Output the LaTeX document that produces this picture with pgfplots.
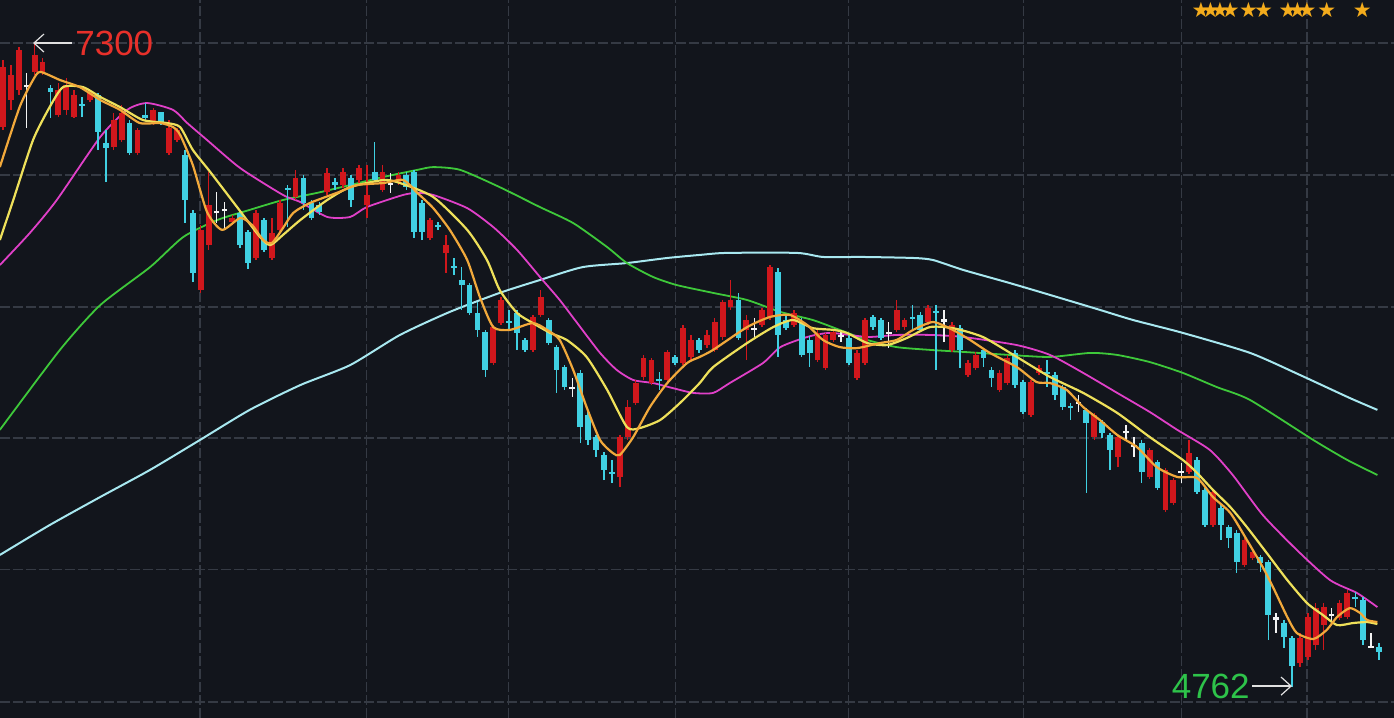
\documentclass[border=0pt]{standalone}
\usepackage{fontspec}
\setmainfont{Liberation Sans}
\newfontfamily\symfont{DejaVu Sans}
\usepackage{pgfplots}
\pgfplotsset{compat=1.18}
\usepackage{pgfplotstable}
\usetikzlibrary{arrows.meta}

\definecolor{bgc}{HTML}{12151C}
\definecolor{gridc}{HTML}{353A44}
\definecolor{upc}{HTML}{D0171C}
\definecolor{dnc}{HTML}{40D0E2}
\definecolor{wc}{HTML}{F2F2F2}
\definecolor{ma5}{HTML}{F2A93B}
\definecolor{ma10}{HTML}{EEE05A}
\definecolor{ma20}{HTML}{E040C8}
\definecolor{ma60}{HTML}{3EC83A}
\definecolor{ma120}{HTML}{A8E8F0}
\definecolor{redtxt}{HTML}{E8302A}
\definecolor{grntxt}{HTML}{2EC34A}
\definecolor{starc}{HTML}{F4AC1C}
\definecolor{arrc}{HTML}{E0E0E0}

\pgfplotsset{
  candle/.style={only marks, mark=*, mark size=0pt, mark options={draw=none, fill=none},
    error bars/.cd, y dir=plus, y explicit, error mark=none,
    error bar style={line width=#1}},
}

% up candles (red): i open high low close
\pgfplotstableread{
i o h l c
0 6972 7237 6961 7209
1 7079 7217 7040 7178
2 7119 7288 7099 7277
4 7190 7300 7178 7257
5 7190 7245 7178 7229
7 7020 7146 7012 7119
8 7040 7166 7020 7138
9 7012 7119 7008 7099
11 7079 7119 7071 7107
14 6893 7028 6882 7000
15 6921 7059 6913 7028
17 6870 6968 6862 6961
19 6992 7047 6980 7040
21 6870 7000 6862 6968
22 6921 6968 6913 6961
25 6329 6585 6317 6566
26 6506 6795 6487 6664
29 6597 6625 6585 6613
32 6455 6645 6447 6633
34 6455 6613 6447 6554
35 6566 6684 6558 6672
37 6696 6803 6684 6771
41 6716 6810 6704 6791
43 6743 6810 6731 6795
45 6763 6822 6751 6810
46 6664 6822 6613 6704
48 6724 6822 6716 6795
50 6755 6795 6743 6783
54 6534 6613 6526 6605
56 6475 6546 6396 6506
62 6040 6190 6032 6182
63 6198 6301 6190 6289
67 6092 6230 6084 6222
68 6230 6329 6222 6301
78 5590 5756 5550 5748
79 5748 5894 5736 5866
80 5882 5973 5874 5961
81 5985 6072 5973 6060
82 5961 6060 5953 6052
84 5973 6092 5965 6084
86 6040 6190 6032 6178
87 6064 6151 6052 6131
89 6111 6171 6099 6151
90 6092 6218 6084 6202
91 6143 6289 6131 6281
92 6261 6368 6250 6289
94 6171 6230 6052 6210
96 6190 6257 6182 6250
97 6222 6427 6210 6419
100 6190 6250 6182 6238
103 6052 6171 6044 6159
104 6020 6159 6013 6151
105 6131 6171 6123 6163
108 5981 6092 5973 6080
109 6040 6218 6032 6210
113 6171 6289 6163 6250
114 6182 6218 6171 6210
117 6202 6269 6190 6257
120 6092 6202 6084 6190
122 5993 6052 5985 6040
123 6020 6084 6013 6072
126 5934 6013 5926 6001
127 5961 6072 5953 6060
130 5835 5973 5827 5965
131 6001 6032 5993 6020
138 5748 5843 5736 5835
141 5669 5756 5629 5748
145 5590 5704 5582 5697
147 5460 5625 5452 5618
148 5487 5586 5479 5578
150 5610 5736 5602 5685
153 5400 5539 5392 5531
157 5242 5349 5234 5341
158 5270 5302 5262 5294
164 4855 4974 4839 4954
165 4879 5053 4867 5037
166 4926 5092 4907 5072
167 5005 5092 4907 5076
169 5033 5104 5025 5092
170 5037 5144 5029 5132
}\upT

% down candles (cyan)
\pgfplotstableread{
i o h l c
6 7126 7138 7008 7111
10 7063 7091 7012 7055
12 7099 7107 6882 6953
13 6909 6961 6755 6889
16 6988 7000 6862 6870
18 7020 7067 7000 7008
20 7032 7032 6980 6988
23 6862 6882 6593 6684
24 6633 6645 6360 6396
30 6633 6645 6494 6506
31 6558 6566 6411 6435
33 6605 6613 6479 6487
36 6731 6743 6577 6724
38 6771 6783 6645 6672
39 6672 6684 6605 6613
40 6664 6676 6625 6637
42 6755 6771 6724 6743
44 6771 6783 6656 6684
47 6795 6913 6755 6763
51 6783 6795 6724 6735
52 6795 6803 6534 6558
53 6672 6684 6526 6558
55 6585 6597 6566 6577
57 6423 6455 6388 6415
58 6368 6419 6250 6348
59 6348 6356 6230 6238
60 6238 6281 6143 6171
61 6163 6171 5985 6013
64 6206 6250 6171 6198
65 6238 6250 6092 6159
66 6131 6139 6084 6092
69 6210 6218 6111 6119
70 6103 6111 5922 6013
71 6024 6032 5934 5945
73 6001 6013 5724 5787
74 5835 5847 5716 5736
75 5748 5756 5669 5697
76 5677 5689 5578 5618
77 5610 5657 5566 5602
83 5977 6005 5934 5969
85 6064 6072 6032 6040
88 6131 6139 6080 6092
93 6289 6317 6131 6139
98 6400 6415 6064 6151
99 6210 6230 6171 6178
101 6202 6218 6064 6072
102 6131 6147 6024 6080
107 6139 6151 6032 6040
110 6222 6230 6171 6182
111 6210 6218 6131 6139
115 6222 6269 6171 6214
116 6230 6242 6163 6171
118 6246 6269 6013 6238
121 6178 6190 6020 6092
124 6092 6099 6024 6060
125 6013 6024 5945 5981
128 6080 6092 5941 5953
129 5965 5973 5839 5847
132 6005 6052 5945 5997
133 5993 6005 5894 5914
134 5945 5953 5855 5866
135 5870 5882 5815 5862
137 5855 5862 5527 5803
139 5807 5815 5744 5764
140 5756 5764 5618 5697
144 5724 5736 5566 5610
146 5649 5657 5539 5546
151 5657 5669 5523 5531
152 5539 5546 5392 5400
154 5467 5479 5341 5400
155 5392 5400 5309 5349
156 5369 5381 5211 5254
159 5274 5282 5215 5250
160 5254 5262 4946 5045
162 5013 5025 4914 4958
163 4954 4962 4762 4843
171 5116 5136 5076 5108
172 5104 5116 4926 4946
174 4918 4934 4867 4899
}\dnT

% doji candles (white)
\pgfplotstableread{
i o h l c
3 7140 7186 6968 7132
27 6639 6716 6593 6631
28 6647 6676 6566 6639
49 6753 6791 6712 6745
72 5947 5981 5906 5939
95 6180 6218 6139 6172
106 6149 6171 6123 6141
112 6161 6202 6099 6153
119 6212 6250 6123 6204
136 5888 5914 5847 5880
142 5770 5795 5736 5762
143 5718 5748 5669 5710
149 5612 5645 5566 5604
161 5035 5053 4974 5027
168 5047 5072 5013 5039
173 4924 4974 4914 4916
}\wT

\begin{document}
\begin{tikzpicture}
\begin{axis}[name=ax, at={(0,0)}, anchor=south west,
  width=697pt, height=359pt, scale only axis,
  xmin=-0.38, xmax=175.9, ymin=4638, ymax=7474,
  axis background/.style={fill=bgc},
  axis line style={draw=none},
  major tick length=0pt,
  xtick={24.9,46.0,63.9,85.0,106.9,129.0,149.0,164.9},
  ytick={7304,6783,6261,5744,5223,4701},
  xticklabels={}, yticklabels={},
  grid=major,
  grid style={gridc, line width=0.6pt, dash pattern=on 5pt off 1.5pt},
]
% slow moving averages
\addplot[ma120, line width=1pt, smooth, tension=0.4] coordinates {
(-0.4,5282) (5.9,5400) (12.3,5511) (18.6,5618) (24.9,5736) (31.2,5855)
(37.6,5953) (43.9,6032) (50.2,6151) (56.5,6242) (62.8,6317) (67.9,6368)
(73.3,6419) (78.9,6435) (84.0,6455) (88.1,6467) (91.5,6475) (100.4,6475)
(103.7,6459) (108.7,6459) (115.1,6455) (117.6,6447) (121.4,6408) (127.3,6356)
(132.4,6309) (138.7,6250) (142.9,6210) (149.2,6159) (157.7,6080) (164.0,5993)
(170.3,5902) (173.8,5855)};
\addplot[ma60, line width=0.9pt, smooth, tension=0.4] coordinates {
(-0.4,5776) (7.2,6092) (12.3,6269) (18.6,6419) (22.8,6538) (27.1,6605)
(31.2,6645) (35.4,6684) (39.7,6712) (43.9,6743) (48.1,6775) (52.4,6803)
(54.4,6814) (57.8,6803) (62.8,6735) (67.9,6656) (72.1,6593) (76.4,6498)
(78.9,6435) (82.2,6380) (85.2,6348) (89.8,6317) (94.1,6289) (98.3,6242)
(102.4,6210) (105.8,6171) (109.3,6131) (113.0,6103) (117.2,6092) (121.4,6084)
(127.3,6072) (132.4,6064) (137.5,6080) (140.9,6072) (145.0,6044) (149.2,6001)
(153.5,5945) (157.7,5894) (165.7,5736) (170.0,5657) (173.8,5598)};
\addplot[ma20, line width=0.9pt, smooth, tension=0.4] coordinates {
(-0.4,6427) (3.4,6554) (6.8,6684) (12.3,6933) (15.7,7040) (18.2,7067)
(21.5,7040) (23.3,6988) (25.8,6921) (30.0,6810) (35.4,6704) (37.6,6676)
(41.0,6617) (43.9,6617) (46.0,6656) (50.6,6704) (52.4,6712) (54.4,6704)
(58.7,6652) (62.0,6577) (65.0,6487) (67.9,6380) (70.4,6289) (73.0,6182)
(75.5,6080) (77.6,6013) (79.7,5973) (82.2,5961) (84.7,5941) (87.3,5922)
(89.8,5922) (91.9,5961) (96.1,6040) (98.3,6103) (101.7,6143) (104.6,6159)
(109.3,6143) (113.0,6151) (117.2,6151) (121.4,6143) (128.2,6111) (132.4,6072)
(136.6,6001) (140.9,5922) (145.0,5847) (148.5,5776) (152.6,5697) (155.5,5598)
(159.3,5440) (163.6,5302) (167.8,5183) (171.2,5132) (173.8,5076)};
% candles: wicks
\addplot[candle=0.75pt, error bar style={color=upc}]
  table[x=i, y=l, y error plus expr=\thisrow{h}-\thisrow{l}] {\upT};
\addplot[candle=0.75pt, error bar style={color=dnc}]
  table[x=i, y=l, y error plus expr=\thisrow{h}-\thisrow{l}] {\dnT};
\addplot[candle=0.75pt, error bar style={color=wc}]
  table[x=i, y=l, y error plus expr=\thisrow{h}-\thisrow{l}] {\wT};
% candles: bodies
\addplot[candle=2.9pt, error bar style={color=upc}]
  table[x=i, y=o, y error plus expr=\thisrow{c}-\thisrow{o}] {\upT};
\addplot[candle=2.9pt, error bar style={color=dnc}]
  table[x=i, y=c, y error plus expr=\thisrow{o}-\thisrow{c}] {\dnT};
\addplot[candle=2.9pt, error bar style={color=wc}]
  table[x=i, y=c, y error plus expr=\thisrow{o}-\thisrow{c}] {\wT};
% fast moving averages
\addplot[ma10, line width=1.1pt, smooth, tension=0.4] coordinates {
(-0.4,6526) (1.3,6684) (3.8,6921) (5.9,7051) (7.6,7130) (10.1,7130)
(12.3,7091) (14.8,7051) (17.7,7000) (20.7,6988) (22.4,6972) (24.0,6882)
(26.2,6795) (29.6,6656) (32.5,6538) (33.8,6506) (35.4,6546) (37.6,6605)
(41.0,6684) (43.9,6735) (48.1,6763) (50.2,6751) (54.4,6696) (58.7,6566)
(61.2,6447) (62.8,6329) (65.0,6238) (67.0,6198) (69.2,6159) (71.3,6131)
(73.8,6064) (76.4,5934) (78.9,5787) (80.5,5783) (83.1,5815) (85.6,5882)
(88.1,5961) (89.8,6024) (94.1,6119) (97.4,6182) (99.9,6210) (102.4,6178)
(105.0,6171) (106.7,6159) (109.3,6119) (111.8,6111) (114.3,6139) (117.2,6182)
(120.1,6178) (123.9,6143) (128.2,6064) (132.4,5985) (136.6,5922) (140.9,5843)
(145.0,5748) (149.2,5657) (151.0,5606) (153.0,5539) (155.2,5471) (157.3,5392)
(159.8,5290) (162.4,5183) (164.9,5092) (166.9,5045) (168.7,5005) (170.7,5013)
(172.5,5017) (173.8,5009)};
\addplot[ma5, line width=1.1pt, smooth, tension=0.4] coordinates {
(-0.4,6814) (2.1,7051) (3.8,7158) (4.7,7190) (7.2,7158) (9.7,7130)
(12.3,7079) (14.8,7040) (17.3,6988) (19.9,6988) (21.5,6972) (22.4,6941)
(24.0,6822) (25.8,6637) (27.7,6566) (30.0,6613) (31.5,6585) (32.9,6526)
(34.0,6514) (35.4,6573) (36.7,6633) (38.8,6672) (42.2,6712) (44.8,6743)
(48.1,6751) (50.6,6763) (52.4,6712) (54.4,6652) (56.5,6566) (58.7,6447)
(60.3,6301) (62.0,6182) (64.1,6171) (67.0,6198) (68.8,6171) (70.4,6131)
(72.1,6013) (73.8,5866) (75.5,5736) (77.1,5685) (78.0,5677) (79.7,5748)
(81.8,5866) (84.0,5961) (86.5,6040) (88.1,6064) (89.8,6092) (94.1,6182)
(97.0,6222) (99.5,6230) (101.7,6190) (103.7,6131) (105.8,6103) (108.0,6099)
(110.9,6119) (113.0,6131) (115.1,6171) (117.6,6202) (120.1,6171) (122.3,6131)
(124.8,6080) (128.2,6024) (130.7,5965) (132.4,5961) (134.5,5934) (136.6,5866)
(138.7,5815) (140.9,5756) (143.4,5708) (145.9,5629) (148.5,5590) (151.0,5586)
(153.0,5511) (155.2,5448) (157.3,5341) (159.3,5234) (160.6,5155) (162.4,5037)
(163.6,4974) (165.7,4950) (167.4,4986) (168.7,5037) (170.3,5072) (171.6,5053)
(172.5,5025) (173.8,5017)};
% annotations
\draw[arrc, line width=0.6pt, -{Straight Barb[length=5pt,width=9pt]}] (axis cs:8.7,7304) -- (axis cs:3.8,7304);
\node[anchor=west, inner sep=0pt, text=redtxt, font=\fontsize{17.5}{17.5}\selectfont] at (axis cs:9.1,7304) {7300};
\draw[arrc, line width=0.6pt, -{Straight Barb[length=5pt,width=9pt]}] (axis cs:158.0,4764) -- (axis cs:163.0,4764);
\node[anchor=east, inner sep=0pt, text=grntxt, font=\fontsize{17.5}{17.5}\selectfont] at (axis cs:157.7,4764) {4762};
% stars
\pgfplotsinvokeforeach{151.5,152.7,153.9,155.2,157.5,159.4,162.5,163.7,164.9,167.4,171.9}{
  \node[inner sep=0pt, text=starc, font=\symfont\fontsize{10.5}{10.5}\selectfont] at (axis cs:#1,7436) {★};
}
\end{axis}
\pgfresetboundingbox
\path[use as bounding box] (ax.south west) rectangle (ax.north east);
\end{tikzpicture}
\end{document}
